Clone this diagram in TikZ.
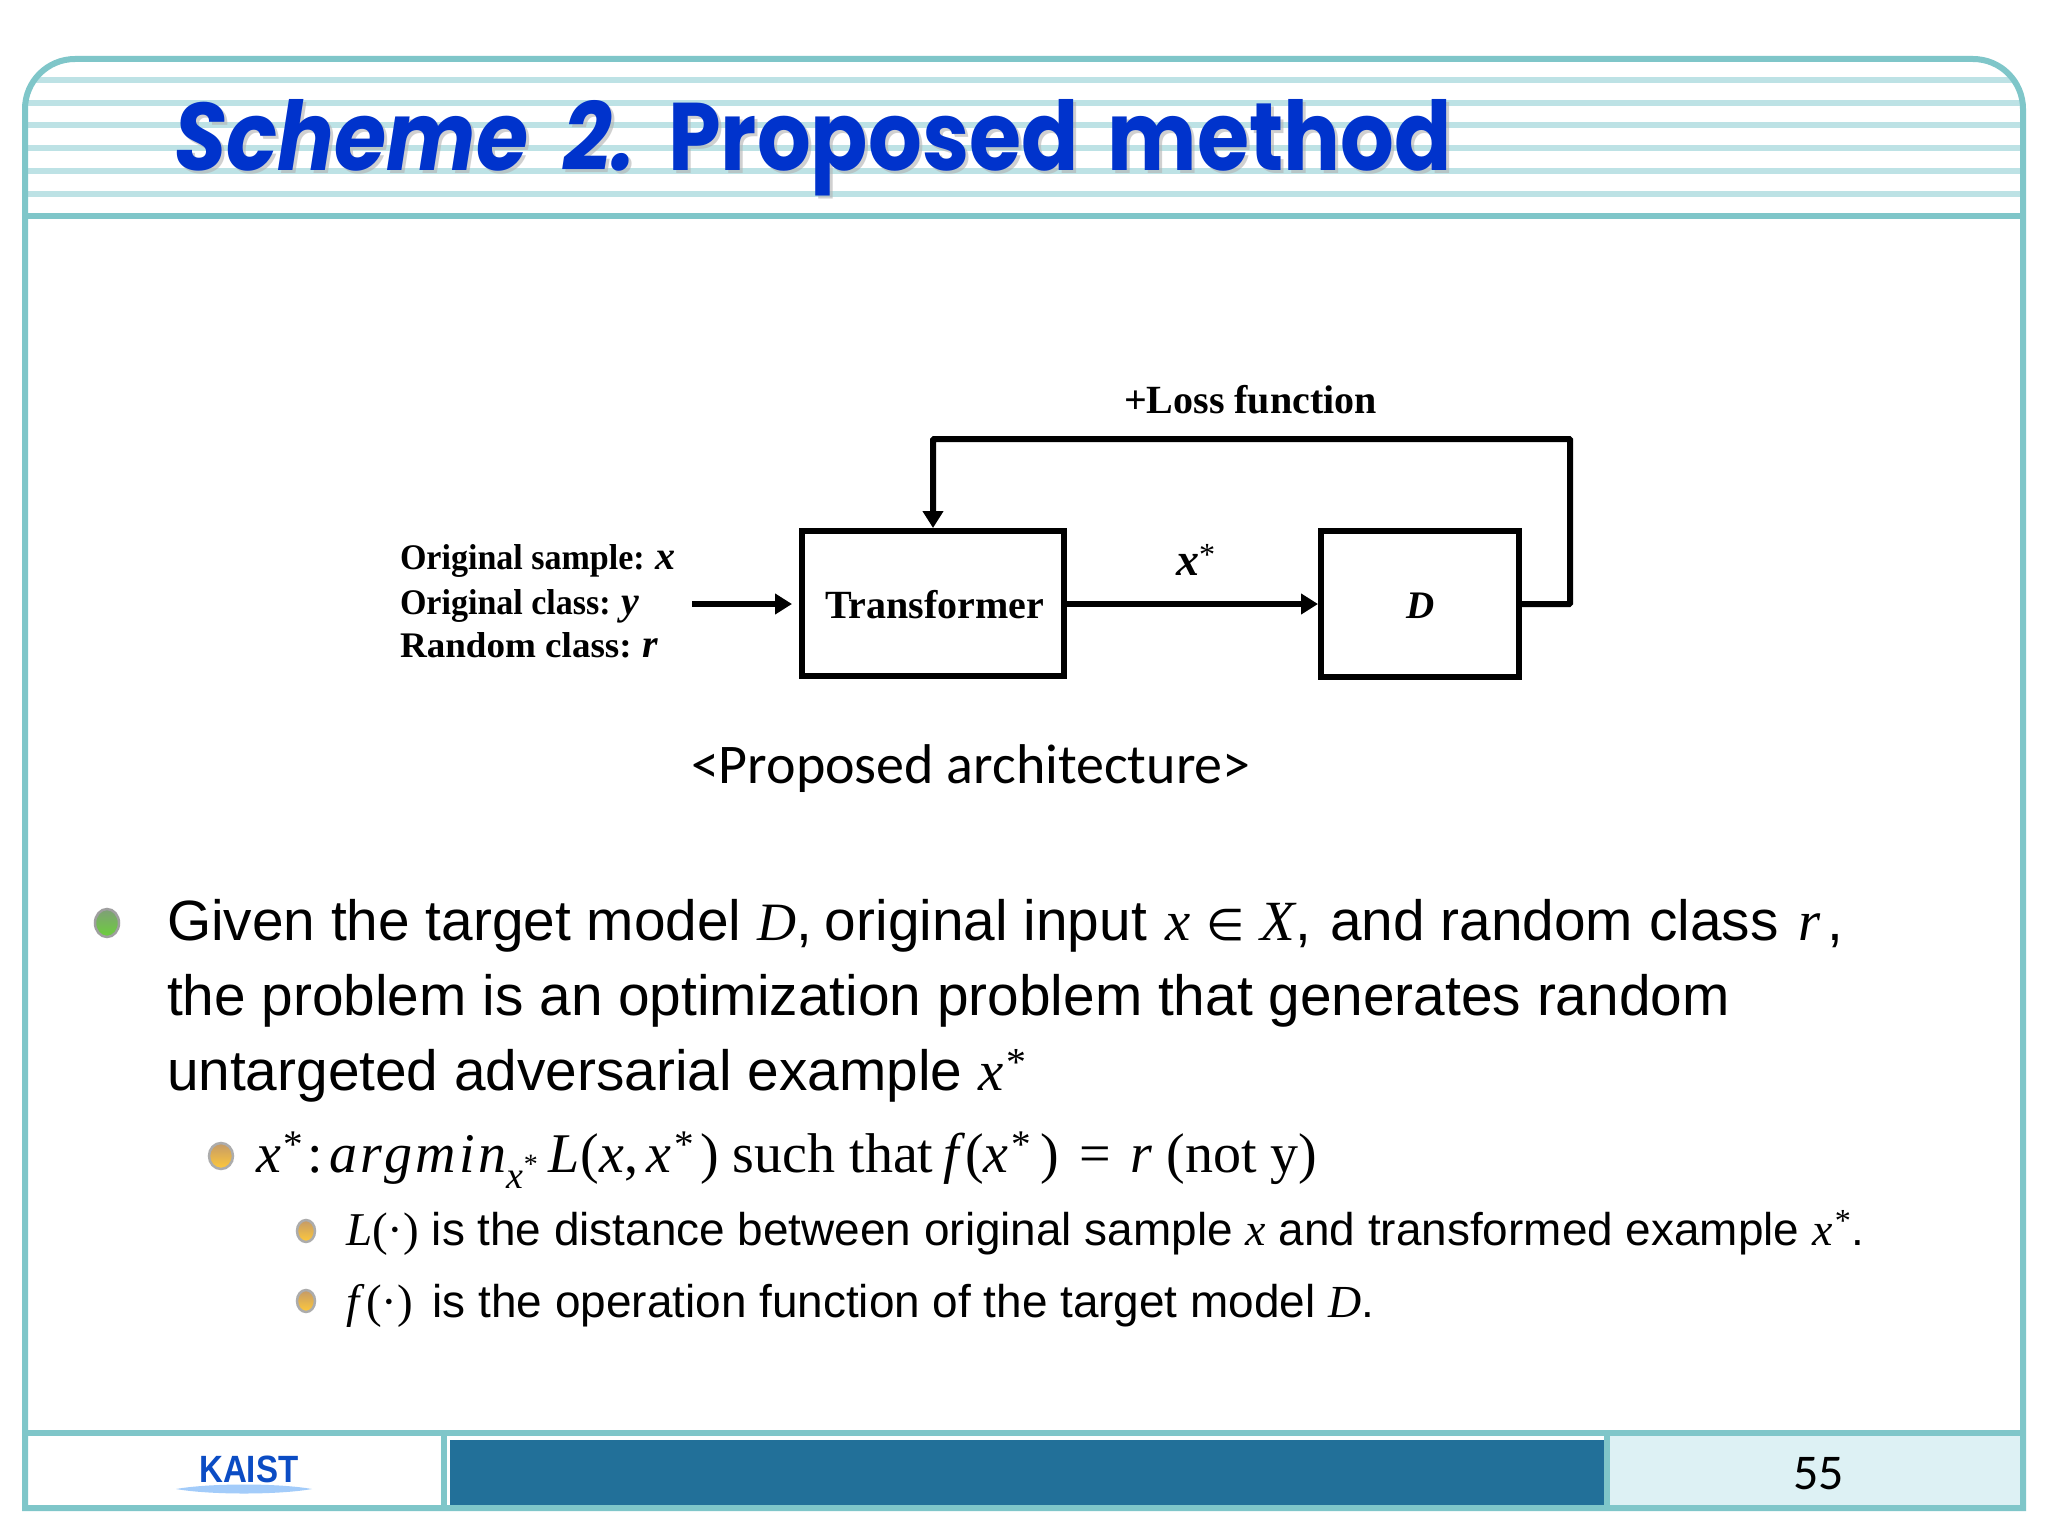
\documentclass[tikz,border=0pt]{standalone}
\usepackage{graphicx}
\usepackage{fontspec}
\setmainfont{Liberation Sans}
\newfontfamily\serf{Liberation Serif}
\newfontfamily\carl{Carlito}
\newfontfamily\popp{Poppins}
\newfontfamily\dejav{DejaVu Sans}
\usetikzlibrary{arrows.meta,shadings}
\definecolor{frameC}{HTML}{7FC6C9}
\definecolor{stripeC}{HTML}{BDE2E5}
\definecolor{titleC}{HTML}{0033CC}
\definecolor{darkC}{HTML}{227099}
\definecolor{paleC}{HTML}{DDF1F4}
\definecolor{logoC}{HTML}{0B4CC4}
\definecolor{logoE}{HTML}{A3CCFA}
\definecolor{gbTop}{HTML}{7F9F78}
\definecolor{gbBot}{HTML}{6CD03A}
\definecolor{obTop}{HTML}{C49A68}
\definecolor{obBot}{HTML}{FFC93A}
\newcommand\fs[1]{\fontsize{#1}{#1}\selectfont}
\newcommand\mi[1]{{\serf\itshape #1}}
\newcommand\st{\hspace{.05em}\raisebox{.1em}{\textsuperscript{\serf *}}}
\newcommand\subs[1]{\raisebox{-.3em}{\fs{38}\serf\itshape #1}}
\newcommand\framepath{(25,1508) -- (25,109) .. controls (25,81.4) and (47.4,59) .. (75,59) -- (1973,59) .. controls (2000.6,59) and (2023,81.4) .. (2023,109) -- (2023,1508) -- cycle}
\newcommand\titletext{\scalebox{.88}[1]{\itshape Scheme\hspace{40pt}2.\hspace{37pt}\upshape Proposed\hspace{33pt}method}}
\tikzset{
  stripeline/.style={stripeC,line width=6pt},
  heavyline/.style={frameC,line width=6pt},
  txt/.style={anchor=base west,inner sep=0pt,outer sep=0pt,text=black},
  lvla/.style={txt,font=\fs{56.8}},
  lvlb/.style={txt,font=\fs{56}\serf},
  lvlc/.style={txt,font=\fs{45.9}},
  dlab/.style={txt,font=\fs{36}\serf\bfseries},
  blockbox/.style={draw=black,line width=6pt,rectangle,inner sep=0pt},
  flow/.style={draw=black,line width=6pt,-{Triangle[length=17pt,width=20pt]}},
  gball/.style={top color=gbTop,bottom color=gbBot,draw=gray!75,line width=2.5pt},
  oball/.style={top color=obTop,bottom color=obBot,draw=gray!65,line width=2.5pt},
}
\begin{document}
\begin{tikzpicture}[x=1pt,y=-1pt]
\useasboundingbox (0,0) rectangle (2048,1536);
\fill[white] (0,0) rectangle (2048,1536);
% header stripes, clipped to frame
\begin{scope}
\clip \framepath;
\foreach \yy in {80,102.7,125.3,148,171,194} \draw[stripeline] (25,\yy) -- (2023,\yy);
\end{scope}
% footer fills
\fill[darkC] (450,1440) rectangle (1604,1505);
\fill[paleC] (1610,1436) rectangle (2020,1505);
% frame
\draw[heavyline] \framepath;
\draw[heavyline] (25,216) -- (2023,216);
\draw[heavyline] (25,1433) -- (2023,1433);
\draw[heavyline] (444,1433) -- (444,1508);
\draw[heavyline] (1607,1433) -- (1607,1508);
% title
\node[anchor=base west,inner sep=0pt,text=gray!60,opacity=.6,font=\fs{96}\popp\bfseries] (titleshadow) at (177,173) {\titletext};
\node[anchor=base west,inner sep=0pt,text=titleC,font=\fs{96}\popp\bfseries] (title) at (174,170) {\titletext};
% diagram
\node[blockbox,minimum width=262pt,minimum height=145pt] (tr) at (933,603.5) {};
\node[blockbox,minimum width=198pt,minimum height=146pt] (dd) at (1420,604) {};
\node[dlab,font=\fs{40}\serf\bfseries] (trl) at (825,618) {Transformer};
\node[dlab,font=\fs{39}\serf\bfseries\itshape] (ddl) at (1406,618) {D};
\node[dlab,font=\fs{40}\serf\bfseries] (loss) at (1124,413) {+Loss function};
\node[dlab,font=\fs{46}\serf\bfseries\itshape] (xs) at (1176,575) {x\textsuperscript{\upshape\mdseries *}};
\node[dlab] (l1) at (400,569) {\scalebox{.945}[1]{Original sample:}\hspace{2pt} {\fs{40}\textit{x}}};
\node[dlab] (l2) at (400,614) {\scalebox{.945}[1]{Original class:}\hspace{2pt} {\fs{40}\textit{y}}};
\node[dlab] (l3) at (400,657) {\scalebox{1.03}[1]{Random class:}\hspace{2pt} {\fs{40}\textit{r}}};
\coordinate (inS) at (692,604);
\coordinate (fbR) at (1570,439);
\draw[flow,shorten >=7pt] (inS) -- (tr.west |- inS);
\draw[flow] (tr.east |- dd.west) -- (dd.west);
\draw[flow,rounded corners=1pt] (dd.east) -| (fbR) -| (tr.north);
\node[txt,font=\fs{56}\carl] (cap) at (691,783) {<Proposed architecture>};
% bullets
\shade[gball] (107,923) ellipse[x radius=12,y radius=14];
\shade[oball] (221,1156) ellipse[x radius=12,y radius=13];
\shade[oball] (306,1231) ellipse[x radius=9,y radius=11];
\shade[oball] (306,1301) ellipse[x radius=9,y radius=11];
% text
\node[lvla] (t1) at (167,940) {Given the target model \mi{\fs{54}D},\hspace{-3pt} original input\hspace{3pt} \mi{x} {\dejav\fs{44}∈} \mi{X},\hspace{3pt} and random class\hspace{4pt} \mi{r}\hspace{7pt},};
\node[lvla] (t2) at (167,1015) {the problem is an optimization problem that generates random};
\node[lvla] (t3) at (167,1090) {untargeted adversarial example \mi{x}\st};
\node[lvlb] (t4) at (256,1172) {\mi{x}\st\hspace{4pt}:\hspace{6pt}{\serf\itshape\addfontfeature{LetterSpace=6.4}argmin}\subs{x}\raisebox{-.02em}{\fs{28}*}\hspace{11pt}\mi{L}\hspace{1pt}(\mi{x},\hspace{8pt}\mi{x}\st\hspace{6pt}) such that\hspace{-4pt} \mi{f}\hspace{6pt}(\mi{x}\st\hspace{9pt})\hspace{6pt} =\hspace{6pt} \mi{r} (not y)};
\node[lvlc] (t5) at (346,1245) {{\serf\fs{47}\mi{L}(·)} is the distance between original sample \mi{x} and transformed example \mi{x}\st.};
\node[lvlc] (t6) at (346,1317) {{\serf\fs{47}\mi{f}\hspace{7pt}(·)\hspace{7pt}} is the operation function of the target model \mi{D}.};
% footer
\node[anchor=base west,inner sep=0pt,text=logoC,font=\fs{38}\bfseries] (kaist) at (199,1482) {\scalebox{.87}[1]{KAIST}};
\fill[logoE] (176,1489) .. controls (210,1483) and (278,1483) .. (312,1489) .. controls (278,1495) and (210,1495) .. (176,1489) -- cycle;
\node[anchor=base west,inner sep=0pt,font=\fs{50}\carl] (pg) at (1793,1489) {55};
\end{tikzpicture}
\end{document}
